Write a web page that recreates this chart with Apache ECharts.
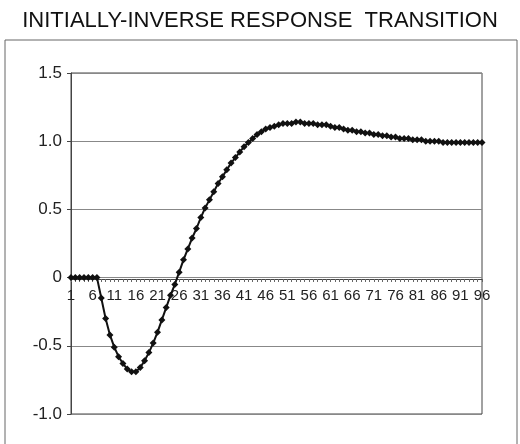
<!DOCTYPE html>
<html>
<head>
<meta charset="utf-8">
<script src="https://cdn.jsdelivr.net/npm/echarts@6/dist/echarts.min.js"></script>
<style>
  html, body { margin: 0; padding: 0; background: #fff; }
  #chart { width: 520px; height: 444px; }
</style>
</head>
<body>
<div id="chart"></div>
<script>
  // time steps 1..96
  var steps = [];
  for (var i = 1; i <= 96; i++) steps.push(String(i));

  // response
  var response = [
    0, 0, 0, 0, 0, 0, 0, -0.15, -0.30, -0.42,
    -0.51, -0.58, -0.63, -0.67, -0.69, -0.69, -0.66, -0.61, -0.55, -0.48,
    -0.40, -0.31, -0.22, -0.13, -0.05, 0.04, 0.13, 0.21, 0.29, 0.36,
    0.44, 0.51, 0.57, 0.63, 0.69, 0.74, 0.79, 0.84, 0.88, 0.92,
    0.96, 0.99, 1.02, 1.05, 1.07, 1.09, 1.10, 1.11, 1.12, 1.13,
    1.13, 1.13, 1.14, 1.14, 1.13, 1.13, 1.13, 1.12, 1.12, 1.12,
    1.11, 1.10, 1.10, 1.09, 1.08, 1.08, 1.07, 1.07, 1.06, 1.06,
    1.05, 1.05, 1.04, 1.04, 1.03, 1.03, 1.02, 1.02, 1.02, 1.01,
    1.01, 1.01, 1.00, 1.00, 1.00, 1.00, 0.99, 0.99, 0.99, 0.99,
    0.99, 0.99, 0.99, 0.99, 0.99, 0.99
  ];

  var chart = echarts.init(document.getElementById('chart'));
  var option = {
    animation: false,
    backgroundColor: '#fff',
    title: {
      text: 'INITIALLY-INVERSE RESPONSE  TRANSITION',
      left: 'center',
      top: 5,
      textStyle: {
        fontFamily: 'Liberation Sans',
        fontWeight: 'normal',
        fontSize: 22,
        color: '#111'
      }
    },
    graphic: [{
      type: 'rect',
      shape: { x: 5, y: 40, width: 512, height: 420 },
      style: { fill: 'none', stroke: '#666', lineWidth: 1 },
      silent: true
    }],
    grid: {
      left: 71,
      top: 73,
      right: 38,
      bottom: 30,
      show: true,
      borderColor: '#444',
      borderWidth: 1
    },
    xAxis: {
      type: 'category',
      data: steps,
      boundaryGap: false,
      offset: -135, // axis sits on the zero line
      axisLine: { onZero: false, lineStyle: { color: '#444', width: 1 } },
      axisTick: { show: true, interval: 0, length: 3, lineStyle: { color: '#666' } },
      axisLabel: {
        interval: 4,
        margin: 9,
        fontFamily: 'Liberation Sans',
        fontSize: 15,
        color: '#222'
      },
      splitLine: { show: false }
    },
    yAxis: {
      type: 'value',
      min: -1,
      max: 1.5,
      interval: 0.5,
      axisLine: { show: true, lineStyle: { color: '#444' } },
      axisTick: { show: true, length: 4, lineStyle: { color: '#444' } },
      axisLabel: {
        margin: 9,
        fontFamily: 'Liberation Sans',
        fontSize: 17,
        color: '#222',
        formatter: function (v) { return v === 0 ? '0' : v.toFixed(1); }
      },
      splitLine: { show: true, lineStyle: { color: '#888', width: 1 } }
    },
    series: [{
      type: 'line',
      data: response,
      symbol: 'diamond',
      symbolSize: 7,
      showAllSymbol: true,
      lineStyle: { color: '#111', width: 2 },
      itemStyle: { color: '#111' }
    }]
  };
  chart.setOption(option);
</script>
</body>
</html>
